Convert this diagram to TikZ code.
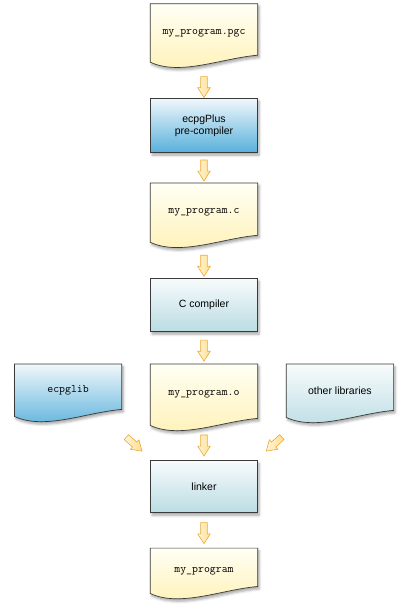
\documentclass[tikz,border=0pt]{standalone}
\usepackage{fontspec}
\setmainfont{Liberation Sans}
\usepackage{tikz}
\usetikzlibrary{shapes,arrows,positioning,backgrounds,shadows.blur}

\definecolor{docTop}{RGB}{255,255,244}
\definecolor{docBottom}{RGB}{255,241,180}
\definecolor{blueTop}{RGB}{240,247,251}
\definecolor{blueBottom}{RGB}{88,176,219}
\definecolor{tealTop}{RGB}{247,251,252}
\definecolor{tealBottom}{RGB}{186,220,227}
\definecolor{edgeGrey}{RGB}{58,58,58}
\definecolor{arrowEdge}{RGB}{240,168,48}
\definecolor{arrowFill}{RGB}{255,222,140}

\begin{document}
\begin{tikzpicture}[
    x=1pt, y=1pt,
    node distance=34pt,
    shade/.style={blur shadow={shadow xshift=1.5pt, shadow yshift=-2.5pt, shadow blur radius=2.5pt, shadow opacity=35}},
    box/.style={rectangle, draw=edgeGrey, line width=0.7pt, minimum width=107pt, minimum height=53pt, align=center, font=\fontsize{10.5}{12.5}\selectfont, shade},
    doc/.style={rectangle, minimum width=107pt, minimum height=59pt, font=\ttfamily\fontsize{11.5}{13}\selectfont},
    docshape/.style={draw=edgeGrey, line width=0.7pt, shade},
    yellowdoc/.style={top color=docTop, bottom color=docBottom},
    bluedoc/.style={top color=blueTop, bottom color=blueBottom},
    tealdoc/.style={top color=tealTop, bottom color=tealBottom},
    blockarrow/.style={single arrow, draw=arrowEdge, line width=0.6pt, left color=arrowFill!30!white, right color=arrowFill, minimum height=21pt, inner xsep=0pt, inner ysep=3pt, single arrow head extend=3pt, single arrow tip angle=65, rotate=#1},
    blockarrow/.default=-90
]
\useasboundingbox (0,0) rectangle (407,-610);

% Main column
\node[doc, minimum height=58pt] (pgc) at (204,-33) {my\_program.pgc};
\node[box, below=36pt of pgc, minimum height=54pt, top color=blueTop, bottom color=blueBottom] (pre) {ecpgPlus\\pre-compiler};
\node[doc, below=30pt of pre] (csrc) {my\_program.c};
\node[box, below=36pt of csrc, top color=tealTop, bottom color=tealBottom] (cc) {C compiler};
\node[doc, below=32pt of cc, minimum height=61pt] (obj) {my\_program.o};
\node[box, below=35pt of obj, minimum height=52pt, top color=tealTop, bottom color=tealBottom] (link) {linker};
\node[doc, below=35pt of link, minimum height=45pt] (out) {my\_program};

% Libraries
\node[doc, left=28.5pt of obj.north west, anchor=north east, minimum height=52pt] (lib) {ecpglib};
\node[doc, right=28.5pt of obj.north east, anchor=north west, minimum height=53pt, font=\fontsize{10.5}{12.5}\selectfont] (other) {other libraries};

% Document outlines
\begin{scope}[on background layer]
\foreach \n/\s in {pgc/yellowdoc, csrc/yellowdoc, obj/yellowdoc, out/yellowdoc, lib/bluedoc, other/tealdoc}
    \draw[docshape, \s] (\n.north west) -- (\n.north east) -- ([yshift=7pt]\n.south east)
        .. controls +(-36,-3) and +(30,-14) .. (\n.south west) -- cycle;
\end{scope}

% Arrows
\path (pgc) -- node[blockarrow, pos=0.62] {} (pre);
\path (pre) -- node[blockarrow] {} (csrc);
\path (csrc) -- node[blockarrow, pos=0.58] {} (cc);
\path (cc) -- node[blockarrow] {} (obj);
\path (obj) -- node[blockarrow] {} (link);
\path (link) -- node[blockarrow] {} (out);
\path (lib.south east) -- node[blockarrow=-42, pos=0.37] {} (link.west);
\path (other.south west) -- node[blockarrow=-138, pos=0.36] {} (link.east);

\end{tikzpicture}
\end{document}
